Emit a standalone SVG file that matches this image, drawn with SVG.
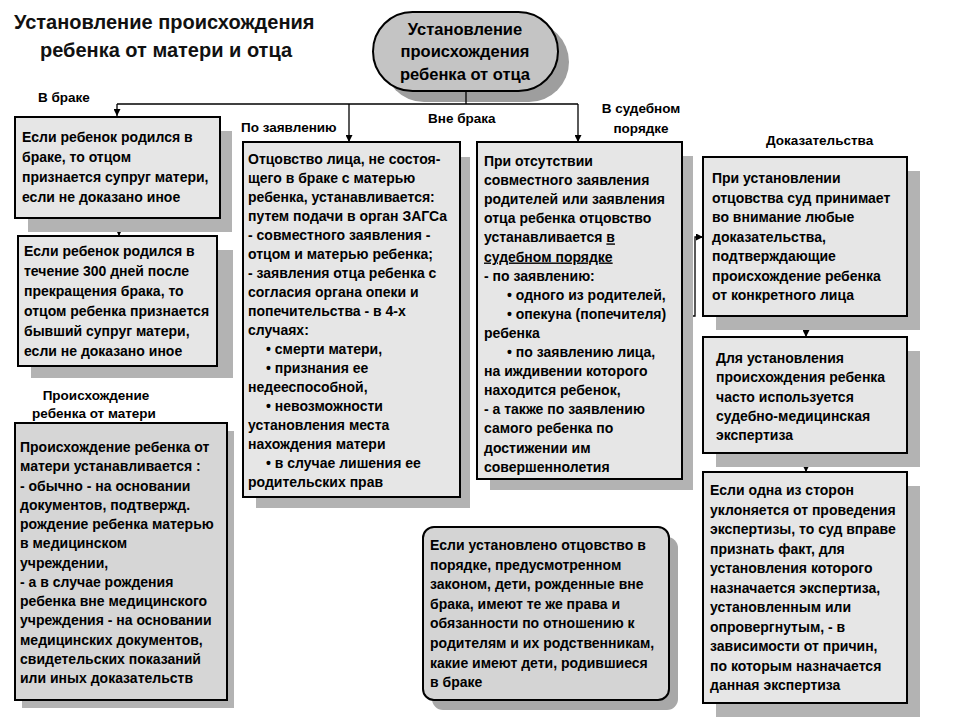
<svg xmlns="http://www.w3.org/2000/svg" width="960" height="720" viewBox="0 0 960 720">
<style>
.t{font-family:"Liberation Sans",Arial,sans-serif;font-weight:bold;font-size:14px;fill:#000}
.lbl{font-family:"Liberation Sans",Arial,sans-serif;font-weight:bold;font-size:13.5px;fill:#000}
.title{font-family:"Liberation Sans",Arial,sans-serif;font-weight:bold;font-size:20px;fill:#111}
.ov{font-family:"Liberation Sans",Arial,sans-serif;font-weight:bold;font-size:16.5px;fill:#000}
.box{fill:#e6e6e6;stroke:#000;stroke-width:2}
.box2{fill:#d6d6d6;stroke:#000;stroke-width:2}
.sh{fill:#b3b3b3}
.c{fill:none;stroke:#000;stroke-width:1.3}
.u{text-decoration:underline}
</style>
<defs>
<marker id="ar" viewBox="0 0 10 10" refX="10" refY="5" markerWidth="7" markerHeight="7" orient="auto" markerUnits="userSpaceOnUse">
<path d="M0,0 L10,5 L0,10 z" fill="#000"/>
</marker>
</defs>
<rect width="960" height="720" fill="#fff"/>

<g id="title">
<text class="title" x="14" y="29">Установление происхождения</text>
<text class="title" x="40" y="57">ребенка от матери и отца</text>
</g>

<g id="labels">
<text class="lbl" x="38" y="102">В браке</text>
<text class="lbl" x="241" y="132">По заявлению</text>
<text class="lbl" x="428" y="123">Вне брака</text>
<text class="lbl" x="641" y="113" text-anchor="middle">В судебном</text>
<text class="lbl" x="641" y="133" text-anchor="middle">порядке</text>
<text class="lbl" x="766" y="145">Доказательства</text>
<text class="lbl" x="96" y="400" text-anchor="middle">Происхождение</text>
<text class="lbl" x="94" y="418" text-anchor="middle">ребенка от матери</text>
</g>

<g id="root">
<rect x="384" y="22" width="185" height="80" rx="40" fill="#9e9e9e"/>
<rect x="373" y="12" width="185" height="79" rx="39.5" fill="#c4c4c4" stroke="#000" stroke-width="2"/>
<text class="ov" x="465" y="35" text-anchor="middle">Установление</text>
<text class="ov" x="465" y="57" text-anchor="middle">происхождения</text>
<text class="ov" x="465" y="80" text-anchor="middle">ребенка от отца</text>
</g>

<g id="connectors">
<path class="c" d="M466,91 V104"/>
<path class="c" d="M117,104 H578"/>
<path class="c" d="M117,104 V116" marker-end="url(#ar)"/>
<path class="c" d="M349,104 V142" marker-end="url(#ar)"/>
<path class="c" d="M578,104 V142" marker-end="url(#ar)"/>
<path class="c" d="M119,218 V236" marker-end="url(#ar)"/>
<path class="c" d="M682,316 H695 V237 H703" marker-end="url(#ar)"/>
<path class="c" d="M806,316 V337" marker-end="url(#ar)"/>
<path class="c" d="M806,453 V472" marker-end="url(#ar)"/>
</g>

<g id="box1">
<rect class="sh" x="28" y="131" width="204" height="101"/>
<rect class="box" x="15" y="117" width="205" height="101"/>
<text class="t" x="22"><tspan x="22" y="142">Если ребенок родился в</tspan><tspan x="22" y="162">браке, то отцом</tspan><tspan x="22" y="182">признается супруг матери,</tspan><tspan x="22" y="202">если не доказано иное</tspan></text>
</g>

<g id="box2">
<rect class="sh" x="31" y="250" width="202" height="128"/>
<rect class="box" x="18" y="236" width="199" height="130"/>
<text class="t"><tspan x="24" y="256">Если ребенок родился в</tspan><tspan x="24" y="276">течение 300 дней после</tspan><tspan x="24" y="296">прекращения брака, то</tspan><tspan x="24" y="316">отцом ребенка признается</tspan><tspan x="24" y="336">бывший супруг матери,</tspan><tspan x="24" y="356">если не доказано иное</tspan></text>
</g>

<g id="box3">
<rect class="sh" x="256" y="157" width="214" height="351"/>
<rect class="box" x="243" y="142" width="217" height="355"/>
<text class="t"><tspan x="248" y="164">Отцовство лица, не состоя-</tspan><tspan x="248" y="183">щего в браке с матерью</tspan><tspan x="248" y="202">ребенка, устанавливается:</tspan><tspan x="248" y="221">путем подачи в орган ЗАГСа</tspan><tspan x="248" y="240">- совместного заявления -</tspan><tspan x="248" y="259">отцом и матерью ребенка;</tspan><tspan x="248" y="278">- заявления отца ребенка с</tspan><tspan x="248" y="297">согласия органа опеки и</tspan><tspan x="248" y="316">попечительства - в 4-х</tspan><tspan x="248" y="335">случаях:</tspan><tspan x="266" y="354">• смерти матери,</tspan><tspan x="266" y="373">• признания ее</tspan><tspan x="248" y="392">недееспособной,</tspan><tspan x="266" y="411">• невозможности</tspan><tspan x="248" y="430">установления места</tspan><tspan x="248" y="449">нахождения матери</tspan><tspan x="266" y="468">• в случае лишения ее</tspan><tspan x="248" y="487">родительских прав</tspan></text>
</g>

<g id="box4">
<rect class="sh" x="490" y="156" width="203" height="334"/>
<rect class="box" x="477" y="142" width="205" height="337"/>
<text class="t"><tspan x="484" y="166">При отсутствии</tspan><tspan x="484" y="185.1">совместного заявления</tspan><tspan x="484" y="204.2">родителей или заявления</tspan><tspan x="484" y="223.3">отца ребенка отцовство</tspan><tspan x="484" y="242.4">устанавливается  </tspan><tspan class="u">в</tspan><tspan x="484" y="261.5" class="u">судебном порядке</tspan><tspan x="484" y="280.6">- по заявлению:</tspan><tspan x="507" y="299.7">• одного из родителей,</tspan><tspan x="507" y="318.8">• опекуна (попечителя)</tspan><tspan x="484" y="337.9">ребенка</tspan><tspan x="507" y="357">• по заявлению лица,</tspan><tspan x="484" y="376.1">на иждивении которого</tspan><tspan x="484" y="395.2">находится ребенок,</tspan><tspan x="484" y="414.3">- а также по заявлению</tspan><tspan x="484" y="433.4">самого ребенка по</tspan><tspan x="484" y="452.5">достижении им</tspan><tspan x="484" y="471.6">совершеннолетия</tspan></text>
</g>

<g id="box5">
<rect class="sh" x="716" y="171" width="204" height="159"/>
<rect class="box" x="703" y="157" width="204" height="159"/>
<text class="t"><tspan x="712" y="183">При установлении</tspan><tspan x="712" y="202.5">отцовства суд принимает</tspan><tspan x="712" y="222">во внимание любые</tspan><tspan x="712" y="241.5">доказательства,</tspan><tspan x="712" y="261">подтверждающие</tspan><tspan x="712" y="280.5">происхождение ребенка</tspan><tspan x="712" y="300">от конкретного лица</tspan></text>
</g>

<g id="box6">
<rect class="sh" x="716" y="351" width="204" height="116"/>
<rect class="box" x="703" y="337" width="204" height="116"/>
<text class="t"><tspan x="716" y="363">Для установления</tspan><tspan x="716" y="382.3">происхождения ребенка</tspan><tspan x="716" y="401.6">часто используется</tspan><tspan x="716" y="420.9">судебно-медицинская</tspan><tspan x="716" y="440.2">экспертиза</tspan></text>
</g>

<g id="box7">
<rect class="sh" x="716" y="486" width="204" height="231"/>
<rect class="box" x="703" y="472" width="204" height="231"/>
<text class="t"><tspan x="710" y="495">Если одна из сторон</tspan><tspan x="710" y="514.5">уклоняется от проведения</tspan><tspan x="710" y="534">экспертизы, то суд вправе</tspan><tspan x="710" y="553.5">признать факт, для</tspan><tspan x="710" y="573">установления которого</tspan><tspan x="710" y="592.5">назначается экспертиза,</tspan><tspan x="710" y="612">установленным или</tspan><tspan x="710" y="631.5">опровергнутым, - в</tspan><tspan x="710" y="651">зависимости от причин,</tspan><tspan x="710" y="670.5">по которым назначается</tspan><tspan x="710" y="690">данная экспертиза</tspan></text>
</g>

<g id="box8">
<rect class="sh" x="22" y="431" width="212" height="277"/>
<rect class="box2" x="15" y="423" width="212" height="277"/>
<text class="t"><tspan x="20" y="452">Происхождение ребенка от</tspan><tspan x="20" y="471.25">матери устанавливается :</tspan><tspan x="20" y="490.5">- обычно - на основании</tspan><tspan x="20" y="509.75">документов,  подтвержд.</tspan><tspan x="20" y="529">рождение ребенка матерью</tspan><tspan x="20" y="548.25">в медицинском</tspan><tspan x="20" y="567.5">учреждении,</tspan><tspan x="20" y="586.75">- а в случае рождения</tspan><tspan x="20" y="606">ребенка вне медицинского</tspan><tspan x="20" y="625.25">учреждения - на основании</tspan><tspan x="20" y="644.5">медицинских документов,</tspan><tspan x="20" y="663.75">свидетельских показаний</tspan><tspan x="20" y="683">или иных доказательств</tspan></text>
</g>

<g id="box9">
<rect x="432" y="537" width="246" height="173" rx="11" fill="#a8a8a8"/>
<rect x="423" y="527" width="246" height="173" rx="11" fill="#d4d4d4" stroke="#000" stroke-width="2"/>
<text class="t"><tspan x="430" y="550">Если установлено отцовство в</tspan><tspan x="430" y="569.6">порядке, предусмотренном</tspan><tspan x="430" y="589.2">законом, дети, рожденные вне</tspan><tspan x="430" y="608.8">брака, имеют те же права и</tspan><tspan x="430" y="628.4">обязанности по отношению к</tspan><tspan x="430" y="648">родителям и их родственникам,</tspan><tspan x="430" y="667.6">какие имеют дети, родившиеся</tspan><tspan x="430" y="687.2">в браке</tspan></text>
</g>
</svg>
